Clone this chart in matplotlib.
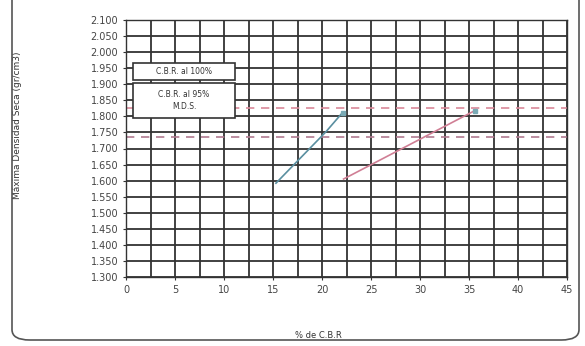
import matplotlib
matplotlib.use("Agg")
import matplotlib.pyplot as plt
import numpy as np
from matplotlib.patches import FancyBboxPatch

# Data
cbr_blue = [15.3, 20.4, 22.1]
mds_blue = [1.592, 1.752, 1.812]
cbr_red = [22.2, 29.0, 35.6]
mds_red = [1.605, 1.713, 1.818]
mds_100 = 1.826
mds_95 = 1.737
x_ticks = [0, 5, 10, 15, 20, 25, 30, 35, 40, 45]
y_ticks = [1.300, 1.350, 1.400, 1.450, 1.500, 1.550, 1.600, 1.650, 1.700,
           1.750, 1.800, 1.850, 1.900, 1.950, 2.000, 2.050, 2.100]
y_labels = [f"{v:.3f}" for v in y_ticks]

W, H = 585, 346
fig = plt.figure(figsize=(W / 100, H / 100), dpi=100)
fig.patch.set_facecolor("white")

# outer rounded frame (top edge lies outside the picture)
frame = FancyBboxPatch((12 / W, 6 / H), (579 - 12) / W, (H + 60) / H,
                       boxstyle="round,pad=0,rounding_size=0.03",
                       transform=fig.transFigure, fill=False,
                       edgecolor="#555555", linewidth=1.2, clip_on=False)
fig.patches.append(frame)

left, right, top, bottom = 126, 567, 20, 277
ax = fig.add_axes([left / W, 1 - bottom / H, (right - left) / W, (bottom - top) / H])
ax.set_xlim(0, 45)
ax.set_ylim(1.3, 2.1)

# grid
for xv in np.arange(0, 45.01, 2.5):
    ax.axvline(xv, color="#333333", lw=1.3, zorder=1)
for yv in y_ticks:
    ax.axhline(yv, color="#333333", lw=1.3, zorder=1)

# horizontal reference dashed lines
ax.axhline(mds_100, color="#d9899a", lw=1.2, ls=(0, (5, 4)), zorder=2)
ax.axhline(mds_95, color="#b07a90", lw=1.2, ls=(0, (5, 4)), zorder=2)

ax.plot(cbr_blue, mds_blue, color="#5a8fa0", lw=1.2, zorder=3)
ax.plot(cbr_red, mds_red, color="#d07f95", lw=1.2, zorder=3)
ax.plot([cbr_blue[-1], cbr_red[-1]], [mds_blue[-1], mds_red[-1]], ls="none",
        marker="s", ms=3, color="#7aaab5", zorder=4)

ax.set_xticks(x_ticks)
ax.set_yticks(y_ticks)
ax.set_yticklabels(y_labels)
ax.tick_params(labelsize=7, length=2, colors="#333333", labelcolor="#444444")
for s in ax.spines.values():
    s.set_color("#333333")
    s.set_linewidth(1.0)

ax.set_xlabel("% de C.B.R", fontsize=6, color="#333333")
ax.xaxis.set_label_coords((318 - left) / (right - left), -(331 - bottom) / (bottom - top))
ax.set_ylabel("Máxima Densidad Seca (gr/cm3)", fontsize=6.5, color="#333333")
ax.yaxis.set_label_coords(-(left - 22) / (right - left), 0.59)

# legend boxes
def box_text(x0, y0, x1, y1, text):
    fx, fy = x0 / W, 1 - y1 / H
    fw, fh = (x1 - x0) / W, (y1 - y0) / H
    r = plt.Rectangle((fx, fy), fw, fh, transform=fig.transFigure,
                      facecolor="white", edgecolor="#333333", lw=1.2, zorder=5)
    fig.patches.append(r)
    fig.text(fx + fw / 2, fy + fh / 2, text, ha="center", va="center",
             fontsize=5.5, color="#333333", zorder=6, linespacing=1.5)

box_text(133, 63, 235, 80, "C.B.R. al 100%")
box_text(133, 83, 235, 118, "C.B.R. al 95%\nM.D.S.")

fig.savefig("out.png", dpi=100, facecolor="white")
